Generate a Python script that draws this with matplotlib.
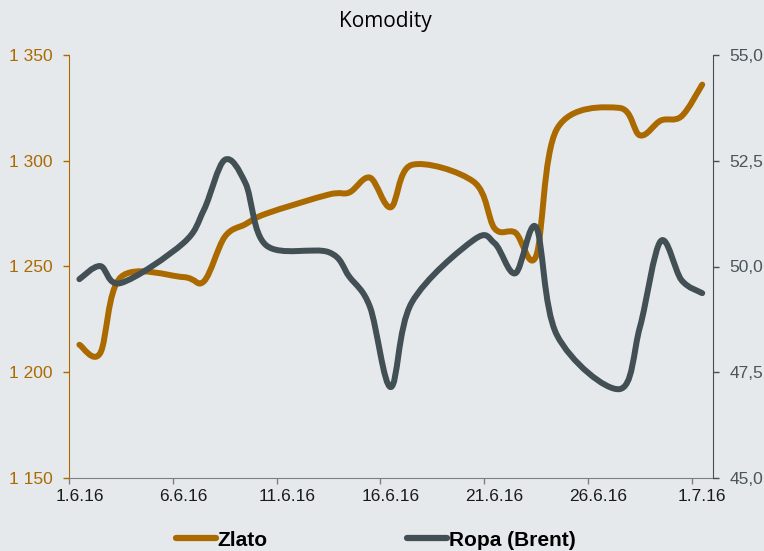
import datetime as dt
import matplotlib
matplotlib.use("Agg")
import matplotlib.pyplot as plt
import matplotlib.dates as mdates
from matplotlib.path import Path
from matplotlib.patches import PathPatch
from matplotlib.lines import Line2D
import numpy as np

# trading days, June 2016
dates = ["2016-06-01", "2016-06-02", "2016-06-03", "2016-06-06", "2016-06-07",
         "2016-06-08", "2016-06-09", "2016-06-10", "2016-06-13", "2016-06-14",
         "2016-06-15", "2016-06-16", "2016-06-17", "2016-06-20", "2016-06-21",
         "2016-06-22", "2016-06-23", "2016-06-24", "2016-06-27", "2016-06-28",
         "2016-06-29", "2016-06-30", "2016-07-01"]
zlato = [1213, 1209, 1245, 1245, 1243, 1264, 1270, 1275, 1284, 1285,
         1292, 1278, 1298, 1290, 1268, 1266, 1255, 1315, 1325, 1312,
         1319, 1321, 1336]
ropa = [49.70, 50.01, 49.61, 50.55, 51.34, 52.52, 51.97, 50.50, 50.34, 49.76,
        49.04, 47.15, 49.14, 50.63, 50.55, 49.84, 50.93, 48.38, 47.10, 48.57,
        50.60, 49.68, 49.37]
tick_dates = ["2016-06-01", "2016-06-06", "2016-06-11", "2016-06-16",
              "2016-06-21", "2016-06-26", "2016-07-01"]

GOLD = "#aa6a00"
GRAY = "#424f55"
BG = "#e6e9ec"


def smooth_path(x, y):
    # Excel-like smoothed line: cubic bezier through every point
    pts = np.column_stack([x, y])
    p = np.vstack([pts[0], pts, pts[-1]])
    verts = [pts[0]]
    codes = [Path.MOVETO]
    for i in range(1, len(p) - 2):
        c1 = p[i] + (p[i + 1] - p[i - 1]) / 6
        c2 = p[i + 1] - (p[i + 2] - p[i]) / 6
        verts += [c1, c2, p[i + 1]]
        codes += [Path.CURVE4] * 3
    return Path(verts, codes)


plt.rcParams['font.family'] = ['Liberation Sans', 'DejaVu Sans']

fig = plt.figure(figsize=(7.64, 5.51), dpi=100, facecolor=BG)
ax = fig.add_axes([69 / 764, 1 - 478 / 551, (712.6 - 69) / 764, (478 - 55) / 551])
ax.set_facecolor(BG)
ax2 = ax.twinx()
ax2.patch.set_visible(False)

x = np.array([mdates.date2num(dt.datetime.strptime(d, "%Y-%m-%d")) for d in dates]) + 0.5

lw = 4.3
ax.add_patch(PathPatch(smooth_path(x, zlato), fill=False, edgecolor=GOLD, lw=lw,
                       capstyle='round', joinstyle='round'))
ax2.add_patch(PathPatch(smooth_path(x, ropa), fill=False, edgecolor=GRAY, lw=lw,
                        capstyle='round', joinstyle='round'))

x0 = mdates.date2num(dt.datetime(2016, 6, 1))
x1 = mdates.date2num(dt.datetime(2016, 7, 2))
ax.set_xlim(x0, x1)
ax.set_ylim(1150, 1350)
ax2.set_ylim(45, 55)

# x ticks at day boundaries, labels centred in the day slot
tx = [mdates.date2num(dt.datetime.strptime(d, "%Y-%m-%d")) for d in tick_dates]
ax.set_xticks(tx)
ax.set_xticklabels([])
ax.set_xticks([t + 0.5 for t in tx], minor=True)
lab = []
for d in tick_dates:
    dd = dt.datetime.strptime(d, "%Y-%m-%d")
    lab.append(f"{dd.day}.{dd.month}.{dd.year % 100}")
ax.set_xticklabels(lab, minor=True)
ax.tick_params(axis='x', which='major', length=4, width=1, color="#7f7f7f", direction='out')
ax.tick_params(axis='x', which='minor', length=0, pad=8, labelsize=12.5, labelcolor="#1a1a1a")

ax.set_yticks([1150, 1200, 1250, 1300, 1350])
ax.set_yticklabels(["1 150", "1 200", "1 250", "1 300", "1 350"])
ax.tick_params(axis='y', length=4, width=1, color=GOLD, labelcolor=GOLD, labelsize=12.5, pad=8)

ax2.set_yticks([45, 47.5, 50, 52.5, 55])
ax2.set_yticklabels(["45,0", "47,5", "50,0", "52,5", "55,0"])
ax2.tick_params(axis='y', length=4, width=1, color=GRAY, labelcolor="#4a555c", labelsize=12.5, pad=8)

for a in (ax, ax2):
    a.spines['top'].set_visible(False)
ax.spines['right'].set_visible(False)
ax2.spines['left'].set_visible(False)
ax2.spines['bottom'].set_visible(False)
ax.spines['left'].set_color(GOLD)
ax2.spines['right'].set_color(GRAY)
ax.spines['bottom'].set_color("#7f7f7f")

fig.text(385 / 764, 1 - 22 / 551, "Komodity", ha='center', va='center',
         fontsize=15, family=['Open Sans', 'DejaVu Sans'], color="#000000")

handles = [Line2D([], [], color=GOLD, lw=4.5, solid_capstyle='round'),
           Line2D([], [], color=GRAY, lw=4.5, solid_capstyle='round')]
fig.legend(handles, ["Zlato", "Ropa (Brent)"], loc='center', ncol=2,
           bbox_to_anchor=(376 / 764, 1 - 540 / 551), frameon=False,
           prop={'weight': 'bold', 'size': 15}, handlelength=1.9,
           handletextpad=0.1, columnspacing=6.7, borderpad=0)

fig.savefig("out.png", dpi=100, facecolor=BG)
